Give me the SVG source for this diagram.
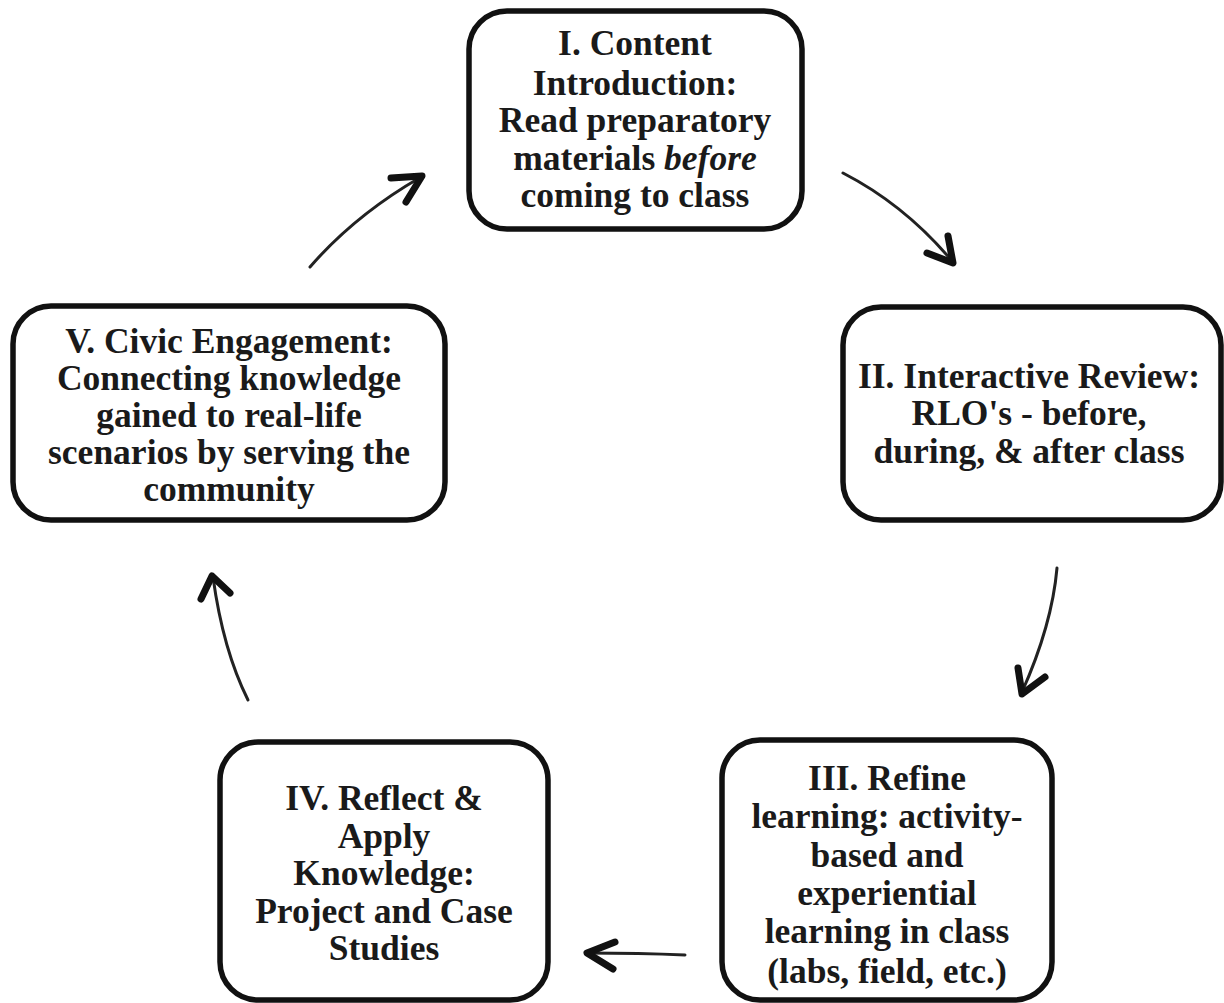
<svg xmlns="http://www.w3.org/2000/svg" width="1224" height="1003" viewBox="0 0 1224 1003">
<style>
.box{fill:#fff;stroke:#111;stroke-width:5.5}
.t{font-family:"Liberation Serif","Times New Roman",Times,serif;font-weight:bold;font-size:35.5px;fill:#1a1a1a;text-anchor:middle}
.c{fill:none;stroke:#222;stroke-width:3;stroke-linecap:round}
.h{fill:none;stroke:#111;stroke-width:7;stroke-linecap:round;stroke-linejoin:round}
</style>
<rect width="1224" height="1003" fill="#fff"/>
<g id="connectors">
<path class="c" d="M310,267 Q355,215 421,177"/>
<path class="h" d="M391,178 L422,176 L406,202"/>
<path class="c" d="M843,173 Q905,205 952,261"/>
<path class="h" d="M927,253 L953,263 L948,236"/>
<path class="c" d="M1057,568 Q1052,625 1022,692"/>
<path class="h" d="M1018,668 L1022,694 L1045,677"/>
<path class="c" d="M685,955 Q640,953 587,953"/>
<path class="h" d="M615,942 L587,953 L613,969"/>
<path class="c" d="M248,700 Q223,650 213,577"/>
<path class="h" d="M201,599 L212,576 L230,593"/>
</g>
<g id="node1">
<rect class="box" x="469" y="11" width="333" height="218" rx="38"/>
<text class="t" x="635" y="55">I. Content</text>
<text class="t" x="635" y="95">Introduction:</text>
<text class="t" x="635" y="132">Read preparatory</text>
<text class="t" x="635" y="170">materials <tspan font-style="italic">before</tspan></text>
<text class="t" x="635" y="207">coming to class</text>
</g>
<g id="node2">
<rect class="box" x="843" y="307" width="378" height="213" rx="38"/>
<text class="t" x="1029" y="388">II. Interactive Review:</text>
<text class="t" x="1029" y="425">RLO's - before,</text>
<text class="t" x="1029" y="463">during, &amp; after class</text>
</g>
<g id="node3">
<rect class="box" x="722" y="740" width="330" height="260" rx="38"/>
<text class="t" x="887" y="790">III. Refine</text>
<text class="t" x="887" y="828">learning: activity-</text>
<text class="t" x="887" y="867">based and</text>
<text class="t" x="887" y="905">experiential</text>
<text class="t" x="887" y="943">learning in class</text>
<text class="t" x="887" y="983">(labs, field, etc.)</text>
</g>
<g id="node4">
<rect class="box" x="220" y="742" width="328" height="258" rx="38"/>
<text class="t" x="384" y="810">IV. Reflect &amp;</text>
<text class="t" x="384" y="848">Apply</text>
<text class="t" x="384" y="885">Knowledge:</text>
<text class="t" x="384" y="923">Project and Case</text>
<text class="t" x="384" y="960">Studies</text>
</g>
<g id="node5">
<rect class="box" x="13" y="306" width="432" height="214" rx="38"/>
<text class="t" x="229" y="353">V. Civic Engagement:</text>
<text class="t" x="229" y="390">Connecting knowledge</text>
<text class="t" x="229" y="427">gained to real-life</text>
<text class="t" x="229" y="464">scenarios by serving the</text>
<text class="t" x="229" y="501">community</text>
</g>
</svg>
